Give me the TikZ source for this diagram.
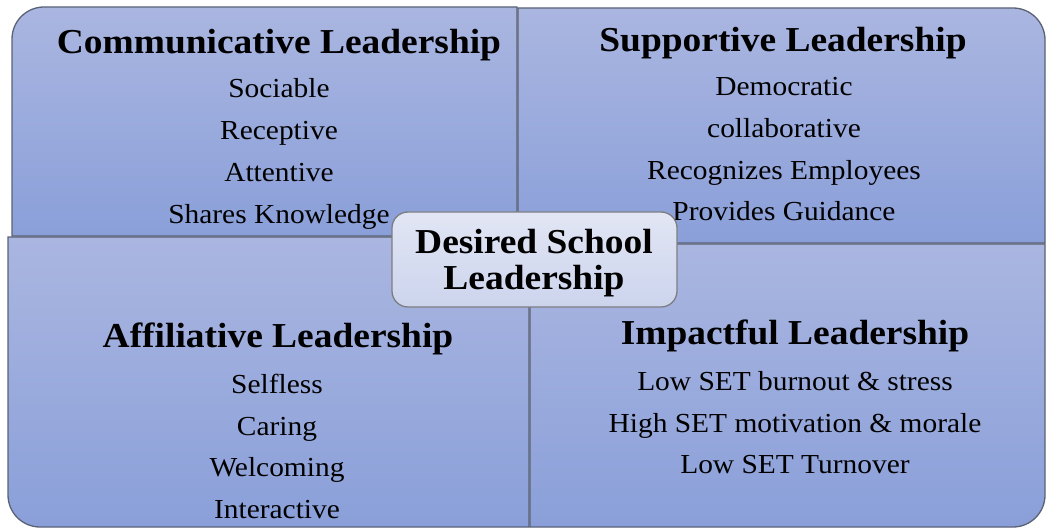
\documentclass[tikz,border=0pt]{standalone}
\usepackage{fontspec}
\setmainfont[FakeStretch=1.07]{Liberation Serif}
\begin{document}
\begin{tikzpicture}[x=1pt,y=-1pt,
  quad/.style={top color=qtop,bottom color=qbot,draw=qedge,line width=1.3pt},
  ttl/.style={anchor=base,inner sep=0pt,font=\fontsize{35}{40}\selectfont\bfseries},
  itm/.style={anchor=base,inner sep=0pt,font=\fontsize{27.5}{32}\selectfont},
  centerbox/.style={top color=ctop,bottom color=cbot,draw=cedge,line width=1.3pt,rounded corners=16pt}]
\definecolor{qtop}{RGB}{170,182,224}
\definecolor{qbot}{RGB}{138,159,217}
\definecolor{qedge}{RGB}{90,98,118}
\definecolor{ctop}{RGB}{226,230,244}
\definecolor{cbot}{RGB}{204,212,237}
\definecolor{cedge}{RGB}{125,125,130}
\useasboundingbox (0,0) rectangle (1048,529);
% quadrants
\shade[quad] (12,236) [rounded corners=32pt] -- (12,7) [sharp corners] -- (517,7) -- (517,236) -- cycle;
\shade[quad] (518,8) [rounded corners=32pt] -- (1045,8) [sharp corners] -- (1045,243) -- (518,243) -- cycle;
\shade[quad] (529,237) -- (8,237) [rounded corners=32pt] -- (8,527) [sharp corners] -- (529,527) -- cycle;
\shade[quad] (530,244) -- (1045,244) [rounded corners=32pt] -- (1045,527) [sharp corners] -- (530,527) -- cycle;
% top-left
\node[ttl] (t1) at (279,54) {Communicative Leadership};
\node[itm] (a1) at (279,98) {Sociable};
\node[itm] (a2) at (279,140) {Receptive};
\node[itm] (a3) at (279,182) {Attentive};
\node[itm] (a4) at (279,223) {Shares Knowledge};
% top-right
\node[ttl] (t2) at (783,52) {Supportive Leadership};
\node[itm] (b1) at (784,96) {Democratic};
\node[itm] (b2) at (784,138) {collaborative};
\node[itm] (b3) at (784,180) {Recognizes Employees};
\node[itm] (b4) at (784,221) {Provides Guidance};
% bottom-left
\node[ttl] (t3) at (278,347) {Affiliative Leadership};
\node[itm] (c1) at (277,393) {Selfless};
\node[itm] (c2) at (277,435) {Caring};
\node[itm] (c3) at (277,476) {Welcoming};
\node[itm] (c4) at (277,518) {Interactive};
% bottom-right
\node[ttl] (t4) at (795,344) {Impactful Leadership};
\node[itm] (d1) at (795,390) {Low SET burnout \& stress};
\node[itm] (d2) at (795,432) {High SET motivation \& morale};
\node[itm] (d3) at (795,473) {Low SET Turnover};
% center
\shade[centerbox] (392,212) rectangle (677,307);
\node[ttl] (m1) at (534,253) {Desired School};
\node[ttl] (m2) at (534,289) {Leadership};
\end{tikzpicture}
\end{document}
